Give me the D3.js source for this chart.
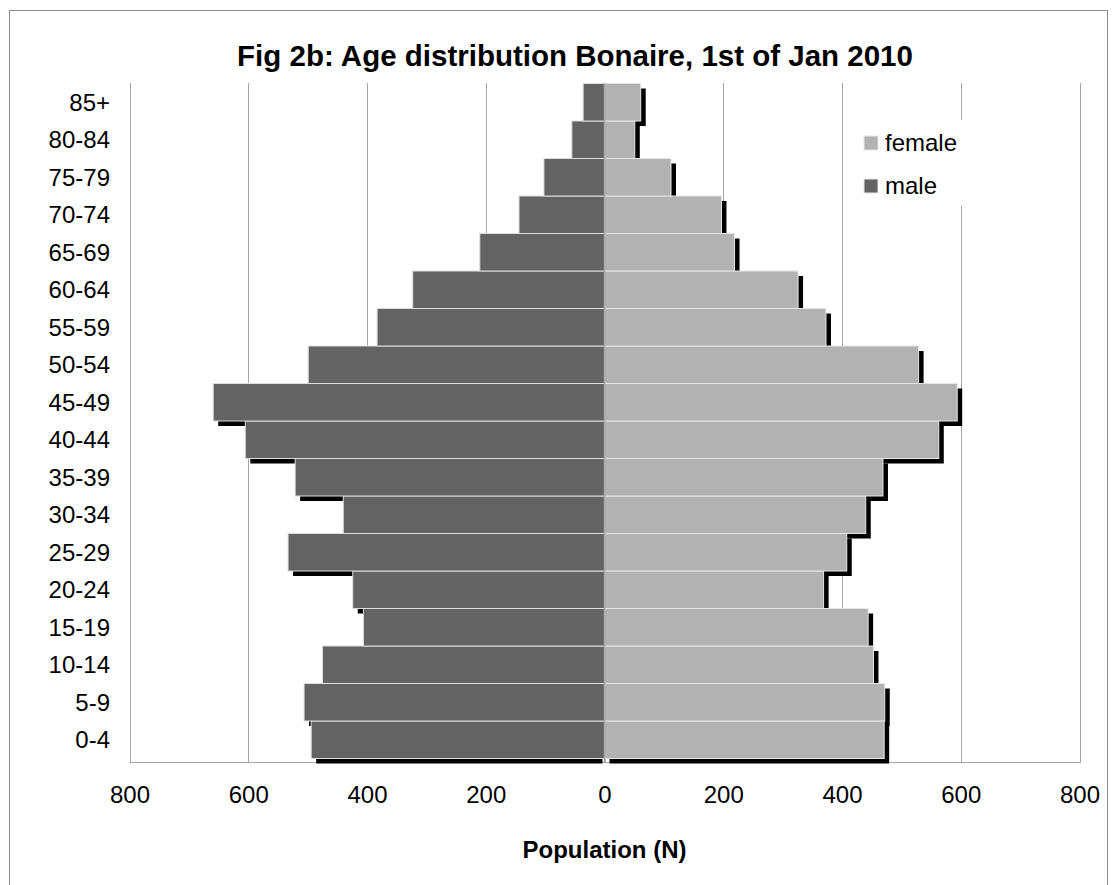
<!DOCTYPE html>
<html><head><meta charset="utf-8">
<script src="https://cdn.jsdelivr.net/npm/d3@7"></script>
<style>
html,body{margin:0;padding:0;background:#fff;}
text{font-family:"Liberation Sans",Arial,sans-serif;}
</style></head>
<body>
<svg id="chart" width="1120" height="885"></svg>
<script>
const ageGroups = ["0-4","5-9","10-14","15-19","20-24","25-29","30-34","35-39","40-44","45-49","50-54","55-59","60-64","65-69","70-74","75-79","80-84","85+"];
const male   = [494, 506, 475, 406, 424, 533, 440, 521, 605, 659, 499, 383, 323, 210, 144, 102, 55, 36];
const female = [471, 472, 453, 444, 369, 408, 440, 469, 563, 594, 529, 373, 326, 219, 197, 112, 51, 61];
const xTicks = [-800,-600,-400,-200,0,200,400,600,800];
const seriesNames = ["female","male"];
const title = "Fig 2b: Age distribution Bonaire, 1st of Jan 2010";
const xTitle = "Population (N)";

const colMale = "#636363", colFemale = "#b2b2b2";
const svg = d3.select("#chart");

// outer frame
svg.append("rect").attr("x",9.5).attr("y",10.5).attr("width",1098).attr("height",900)
  .attr("fill","none").attr("stroke","#8c8c8c").attr("stroke-width",1);

const x = d3.scaleLinear().domain([-800,800]).range([129.5,1079.5]);
const y = d3.scaleBand().domain(ageGroups.slice().reverse()).range([83.5,758.5]).padding(0);
const plotTop = 83, plotBottom = 763;

// gridlines
svg.append("g").selectAll("line").data(xTicks).join("line")
  .attr("x1",d=>Math.round(x(d))+0.5).attr("x2",d=>Math.round(x(d))+0.5)
  .attr("y1",plotTop).attr("y2",plotBottom)
  .attr("stroke","#a6a6a6").attr("stroke-width",1);
// bottom axis line
svg.append("line").attr("x1",x(-800)).attr("x2",x(800)+0.5).attr("y1",plotBottom-0.5).attr("y2",plotBottom-0.5)
  .attr("stroke","#a6a6a6").attr("stroke-width",1);

const rows = ageGroups.map((g,i)=>({g, m:male[i], f:female[i]}));
const off = 5;
// shadows first
const sh = svg.append("g");
sh.selectAll("rect.ms").data(rows).join("rect").attr("class","ms")
  .attr("x",d=>x(-d.m)+off).attr("width",d=>x(0)-2-(x(-d.m)+off))
  .attr("y",d=>y(d.g)+off).attr("height",y.bandwidth()).attr("fill","#000");
sh.selectAll("rect.fs").data(rows).join("rect").attr("class","fs")
  .attr("x",x(0)+off).attr("width",d=>x(d.f)-x(0))
  .attr("y",d=>y(d.g)+off).attr("height",y.bandwidth()).attr("fill","#000");

// bars
const bars = svg.append("g");
bars.selectAll("rect.m").data(rows).join("rect").attr("class","m")
  .attr("x",d=>x(-d.m)).attr("width",d=>x(0)-x(-d.m))
  .attr("y",d=>y(d.g)).attr("height",y.bandwidth())
  .attr("fill",colMale).attr("stroke","#dedede").attr("stroke-width",1);
bars.selectAll("rect.f").data(rows).join("rect").attr("class","f")
  .attr("x",x(0)).attr("width",d=>x(d.f)-x(0))
  .attr("y",d=>y(d.g)).attr("height",y.bandwidth())
  .attr("fill",colFemale).attr("stroke","#e6e6e6").attr("stroke-width",1);

// zero axis line
svg.append("line").attr("x1",x(0)).attr("x2",x(0)).attr("y1",plotTop).attr("y2",plotBottom)
  .attr("stroke","#a6a6a6").attr("stroke-width",1.5);

// y axis labels
const yAxis = d3.axisLeft(y).tickSize(0).tickPadding(0);
const gy = svg.append("g").attr("transform","translate(110,0)").call(yAxis);
gy.select(".domain").remove();
gy.selectAll("text").attr("font-size",24).attr("fill","#000")
  .attr("font-family","'Liberation Sans',Arial,sans-serif").attr("dy","0.35em");

// x axis labels
const xAxis = d3.axisBottom(x).tickValues(xTicks).tickSize(0).tickPadding(0).tickFormat(d=>Math.abs(d));
const gx = svg.append("g").attr("transform","translate(0,786)").call(xAxis);
gx.select(".domain").remove();
gx.selectAll("text").attr("font-size",24).attr("fill","#000")
  .attr("font-family","'Liberation Sans',Arial,sans-serif").attr("dy","0.72em");

// title
svg.append("text").attr("x",575).attr("y",66).attr("text-anchor","middle")
  .attr("font-size",29.5).attr("font-weight","bold").attr("fill","#000").text(title);
svg.append("text").attr("x",x(0)).attr("y",858).attr("text-anchor","middle")
  .attr("font-size",24).attr("font-weight","bold").attr("fill","#000").text(xTitle);

// legend
const lg = svg.append("g");
lg.append("rect").attr("x",852).attr("y",120).attr("width",120).attr("height",86).attr("fill","#fff");
const legCols = {female:colFemale, male:colMale};
seriesNames.forEach((s,i)=>{
  const yy = 136 + i*43;
  lg.append("rect").attr("x",864).attr("y",yy).attr("width",14).attr("height",14)
    .attr("fill",legCols[s]).attr("stroke","#e6e6e6").attr("stroke-width",1);
  lg.append("text").attr("x",885).attr("y",yy+15).attr("font-size",24).attr("fill","#000").text(s);
});
</script>
</body></html>
